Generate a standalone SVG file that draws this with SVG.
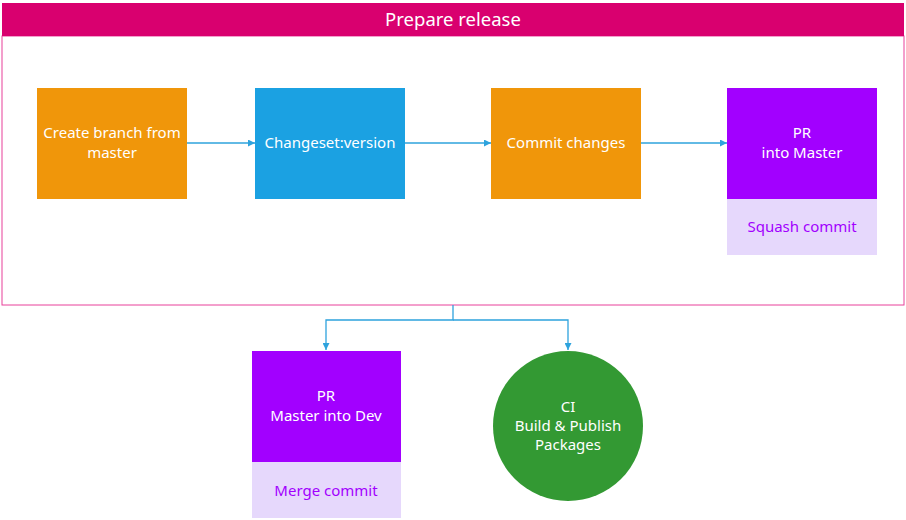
<svg xmlns="http://www.w3.org/2000/svg" width="906" height="520" viewBox="0 0 906 520">
<defs>
<style>
text{font-family:"Noto Sans","Open Sans","DejaVu Sans",sans-serif;text-anchor:middle;dominant-baseline:central}
.w{fill:#ffffff;font-size:15px}
.p{fill:#a200ff;font-size:15px}
.c{stroke:#2ea3dd;stroke-width:1.3;fill:none}
</style>
<marker id="ah" viewBox="0 0 10 10" refX="10" refY="5" markerWidth="7" markerHeight="7" orient="auto" markerUnits="userSpaceOnUse">
<path d="M0,0 L10,5 L0,10 z" fill="#2ea3dd"/>
</marker>
</defs>
<rect width="906" height="520" fill="#ffffff"/>
<g id="container">
<rect x="2" y="36" width="902" height="269" fill="#ffffff" stroke="#e8409a" stroke-width="1"/>
<rect x="2" y="3" width="902" height="33" fill="#d9006f"/>
<text x="453" y="18" fill="#ffffff" style="font-size:18.5px">Prepare release</text>
</g>
<g id="connectors">
<path class="c" d="M187,143 H255" marker-end="url(#ah)"/>
<path class="c" d="M405,143 H491" marker-end="url(#ah)"/>
<path class="c" d="M641,143 H727" marker-end="url(#ah)"/>
<path class="c" d="M453,305 V320 H326 V350" marker-end="url(#ah)"/>
<path class="c" d="M453,320 H568 V350" marker-end="url(#ah)"/>
</g>
<g id="create-branch">
<rect x="37" y="88" width="150" height="111" fill="#f0960a"/>
<text class="w" x="112" y="132">Create branch from</text>
<text class="w" x="112" y="152">master</text>
</g>
<g id="changeset">
<rect x="255" y="88" width="150" height="111" fill="#1ba1e2"/>
<text class="w" x="330" y="142">Changeset:version</text>
</g>
<g id="commit-changes">
<rect x="491" y="88" width="150" height="111" fill="#f0960a"/>
<text class="w" x="566" y="142">Commit changes</text>
</g>
<g id="pr-master">
<rect x="727" y="88" width="150" height="111" fill="#a200ff"/>
<text class="w" x="802" y="132">PR</text>
<text class="w" x="802" y="152">into Master</text>
<rect x="727" y="199" width="150" height="56" fill="#e6d8fc"/>
<text class="p" x="802" y="226">Squash commit</text>
</g>
<g id="pr-dev">
<rect x="252" y="351" width="149" height="111" fill="#a200ff"/>
<text class="w" x="326" y="395">PR</text>
<text class="w" x="326" y="415">Master into Dev</text>
<rect x="252" y="462" width="149" height="56" fill="#e6d8fc"/>
<text class="p" x="326" y="490">Merge commit</text>
</g>
<g id="ci">
<circle cx="568" cy="426" r="75" fill="#339933"/>
<text class="w" x="568" y="406">CI</text>
<text class="w" x="568" y="425">Build &amp; Publish</text>
<text class="w" x="568" y="444">Packages</text>
</g>
</svg>
